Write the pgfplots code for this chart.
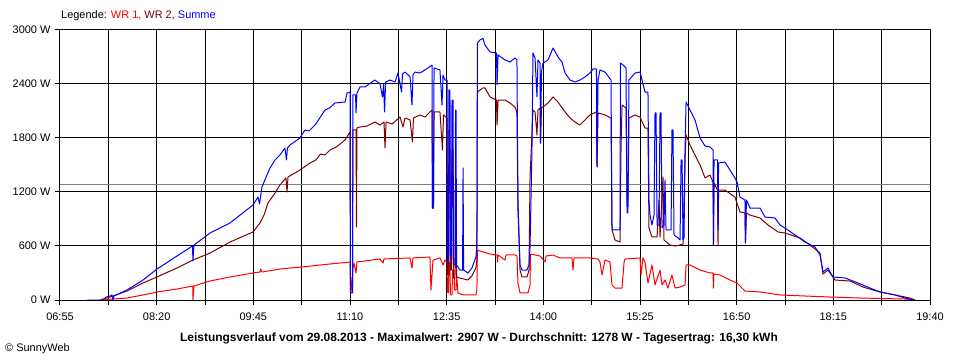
\documentclass[border=0pt]{standalone}
\usepackage{pgfplots}
\pgfplotsset{compat=1.18}
\usepackage{fontspec}
\setmainfont{Liberation Sans}
\definecolor{wrone}{RGB}{255,0,0}
\definecolor{wrtwo}{RGB}{128,0,0}
\definecolor{summe}{RGB}{0,0,255}
\definecolor{avg}{RGB}{128,128,128}
\begin{document}
\begin{tikzpicture}
\useasboundingbox (-60bp,-60bp) rectangle (900bp,300bp);
\begin{axis}[
 at={(0,0)}, anchor=south west,
 scale only axis, width=870bp, height=270bp,
 xmin=415, xmax=1180, ymin=0, ymax=3000,
 xtick={415,457.5,500,542.5,585,627.5,670,712.5,755,797.5,840,882.5,925,967.5,1010,1052.5,1095,1137.5,1180},
 xticklabels={06:55,{},08:20,{},09:45,{},11:10,{},12:35,{},14:00,{},15:25,{},16:50,{},18:15,{},19:40},
 ytick={0,600,1200,1800,2400,3000},
 yticklabels={0 W,600 W,1200 W,1800 W,2400 W,3000 W},
 tick pos=left, tick align=outside, major tick length=5bp,
 grid=major, major grid style={black, line width=1bp},
 axis line style={black, line width=1bp},
 every tick/.style={black, line width=1bp},
 tick label style={font=\fontsize{11}{13}\selectfont},
 xticklabel style={yshift=-4bp},
 yticklabel style={xshift=-1bp},
 every axis plot/.append style={line width=1bp, line join=round},
]
\addplot[avg, line width=1bp] coordinates {(415,1278) (1180,1278)};
% WR 1
\addplot[wrone] coordinates {
(452.8,0) (461.6,11) (473.9,22) (488.0,56) (500.3,89) (517.9,122) (531.9,156) (531.9,0) (532.8,156)
(546.9,211) (564.5,256) (584.7,300) (590.9,311) (591.5,344) (592.6,311) (608.4,344) (627.8,367)
(652.4,400) (670.0,422) (670.9,78) (672.6,356) (673.5,411) (675.3,300) (676.1,422) (696.4,456)
(699.0,411) (699.9,456) (722.8,467) (724.5,356) (725.4,467) (740.3,478) (741.2,111) (743.0,444)
(749.1,467) (751.8,389) (753.5,444) (755.3,422) (755.7,89) (756.6,78) (757.0,422) (757.9,389)
(758.3,56) (759.7,56) (760.2,333) (761.5,333) (761.9,111) (763.2,111) (763.7,278) (765.0,78)
(769.4,56) (780.7,56) (781.6,111) (782.0,556) (784.3,544) (793.1,511) (799.3,500) (799.7,422)
(800.2,500) (806.3,444) (807.2,500) (815.1,500) (816.8,489) (817.7,189) (819.5,78) (826.5,78)
(828.3,167) (828.7,511) (837.1,489) (841.5,422) (842.4,489) (848.5,500) (854.7,467) (865.2,467)
(866.1,333) (867.0,467) (881.0,467) (888.1,456) (889.8,422) (891.6,278) (894.2,444) (898.6,422)
(900.4,167) (903.0,133) (909.2,133) (911.0,422) (911.8,456) (925.0,467) (925.9,278) (927.6,467)
(929.4,422) (932.0,189) (935.5,389) (938.2,167) (942.6,333) (944.4,167) (947.0,222) (949.6,133)
(953.1,278) (955.8,133) (960.2,144) (964.6,167) (965.5,389) (969.0,389) (977.8,333) (986.5,300)
(989.2,300) (989.6,133) (990.1,289) (995.3,278) (1004.1,222) (1010.3,189) (1017.3,100) (1030.5,89)
(1048.1,56) (1092.1,33) (1118.4,22) (1158.0,11) (1166.8,0)
};
% WR 2
\addplot[wrtwo] coordinates {
(450.2,0) (459.0,33) (473.9,100) (488.0,189) (500.3,256) (517.9,356) (531.9,444) (546.9,522)
(564.5,644) (584.7,756) (590.9,856) (594.4,944) (597.9,1078) (604.1,1189) (608.4,1278) (613.7,1356)
(614.6,1200) (615.5,1367) (626.0,1444) (634.8,1522) (640.0,1556) (644.0,1622) (648.0,1611) (652.4,1667) (658.0,1700) (665.6,1778) (670.0,1867)
(670.4,167) (672.2,167) (672.6,1889) (675.3,1889) (675.7,811) (676.1,1911) (678.8,1922) (685.0,1933) (692.0,1978)
(696.4,1944) (699.9,1978) (700.8,1689) (701.7,1978) (707.0,1956) (714.0,2033) (716.6,1922) (718.4,2022) (722.8,2000)
(724.9,1756) (725.8,2022) (731.6,2056) (736.0,2033) (740.3,2089) (742.1,2111) (742.5,1022) (743.4,1022) (743.9,2089)
(749.1,2089) (751.3,1667) (752.2,2056) (755.3,2022) (755.7,278) (756.6,278) (757.0,1889) (757.9,1778)
(758.3,333) (759.2,333) (759.7,1667) (760.6,1667) (761.0,244) (762.3,244) (762.8,1111) (763.2,1111)
(763.7,256) (766.7,244) (773.7,222) (777.2,267) (780.7,356) (781.6,444) (782.0,2311) (786.9,2356)
(788.7,2356) (793.1,2256) (798.8,2222) (799.3,1944) (800.2,2222) (806.3,2222) (810.7,2189) (815.1,2144)
(816.8,2078) (817.7,1111) (819.5,333) (821.2,256) (825.6,256) (827.4,333) (828.3,1367) (830.9,2111)
(832.7,2089) (834.4,1833) (835.3,2111) (837.1,2133) (837.5,1744) (838.4,2133) (844.1,2189) (848.5,2256)
(852.9,2200) (854.7,2167) (859.1,2089) (863.5,2022) (867.8,1978) (872.2,1944) (876.6,2000) (881.0,2056)
(886.7,2089) (887.2,1478) (888.1,2078) (894.2,2056) (899.5,2022) (900.4,778) (903.0,667) (907.4,644)
(908.3,1667) (909.2,2167) (912.7,2133) (913.6,1111) (914.4,1111) (915.3,2022) (920.6,2056) (925.0,2033)
(929.4,1911) (932.0,1911) (932.9,800) (935.5,700) (938.2,700) (940.0,700) (941.7,1111) (942.6,700)
(945.2,1367) (946.1,667) (951.4,611) (955.8,600) (960.2,611) (962.8,622) (964.6,1556) (965.5,1833)
(969.0,1722) (977.8,1500) (982.2,1356) (986.5,1389) (989.2,1311) (989.6,611) (990.1,1300) (993.2,1222)
(993.6,611) (994.1,1222) (999.7,1222) (1008.5,1144) (1012.9,978) (1017.3,967) (1017.7,633) (1018.6,967)
(1021.7,944) (1030.5,911) (1037.6,833) (1046.4,756) (1052.5,744) (1065.7,689) (1074.5,611) (1083.3,522)
(1085.9,289) (1090.3,333) (1092.1,300) (1096.5,222) (1109.7,211) (1121.1,144) (1136.0,89) (1149.2,56)
(1162.4,22) (1166.8,0)
};
% Summe
\addplot[summe] coordinates {
(438.7,0) (452.8,0) (455.4,33) (459.0,44) (460.7,56) (461.6,0) (462.5,44) (473.9,111) (488.0,222)
(500.3,344) (517.9,489) (531.5,600) (531.9,433) (532.8,611) (546.9,744) (564.5,856) (584.7,1056)
(589.1,1144) (590.5,1067) (591.3,1144) (592.6,1256) (597.0,1389) (599.7,1467) (604.1,1556) (608.4,1611)
(612.8,1689) (614.1,1556) (615.0,1689) (617.2,1722) (626.0,1800) (630.4,1889) (634.0,1878) (639.2,1944) (644.0,2033) (648.0,2111)
(652.0,2133) (656.8,2189) (665.6,2200) (667.4,2300) (670.0,2311) (670.4,78) (672.2,78) (672.6,2278) (674.9,2278)
(675.3,2078) (676.1,2300) (678.8,2367) (683.2,2367) (689.3,2422) (692.0,2444) (696.4,2400) (698.6,2256)
(699.5,2400) (700.4,2089) (701.3,2422) (705.2,2444) (709.6,2422) (712.2,2522) (715.3,2311) (716.2,2511)
(718.4,2533) (722.8,2478) (724.5,2167) (725.4,2500) (727.2,2533) (731.6,2522) (738.6,2578) (742.1,2611)
(742.5,1022) (743.4,1022) (743.9,2578) (749.1,2556) (750.9,2167) (751.8,2500) (753.5,2444) (755.3,2444)
(755.7,422) (756.6,422) (757.0,2333) (757.9,2333) (758.3,500) (759.2,500) (759.7,2222) (760.6,2222)
(761.0,389) (762.3,389) (762.8,2111) (763.2,2111) (763.7,389) (766.7,333) (769.0,333) (769.4,1467)
(769.9,333) (773.7,300) (777.2,356) (780.7,478) (781.6,611) (782.0,2856) (784.3,2889) (786.9,2907)
(788.7,2833) (793.1,2756) (798.8,2744) (799.3,2389) (800.2,2722) (806.3,2667) (810.7,2644) (815.1,2689)
(816.8,2667) (817.7,1000) (819.5,389) (821.2,333) (825.6,333) (827.4,389) (828.3,589) (830.0,1667)
(830.9,2744) (832.7,2689) (834.4,2256) (835.3,2667) (837.1,2633) (837.5,1744) (838.4,2533) (839.7,2633)
(844.1,2667) (848.5,2800) (852.9,2700) (856.4,2644) (859.1,2522) (863.5,2444) (867.8,2422) (872.2,2444)
(876.6,2478) (881.0,2522) (883.7,2567) (886.7,2567) (887.2,1478) (888.1,2444) (889.8,2556) (894.2,2533)
(899.5,2444) (900.4,778) (907.4,778) (907.8,2633) (910.1,2611) (912.7,2578) (913.6,967) (914.4,967)
(915.3,2444) (920.6,2522) (925.0,2533) (929.4,2311) (932.0,2311) (932.9,1111) (933.8,944) (935.5,833)
(937.3,944) (938.2,2078) (939.1,2078) (940.0,833) (941.7,833) (942.6,2078) (943.5,2078) (944.4,800)
(946.1,833) (947.0,1333) (947.9,778) (952.3,778) (953.1,1889) (954.0,1889) (954.9,722) (958.5,689)
(960.2,667) (961.1,1556) (962.0,1556) (962.8,667) (963.7,689) (964.6,1667) (965.5,2200) (969.0,2111)
(973.4,2000) (977.8,1800) (982.2,1711) (986.5,1700) (989.2,1667) (989.6,611) (990.1,1556) (993.2,1556)
(993.6,778) (994.1,1522) (999.7,1533) (1004.1,1444) (1008.5,1356) (1010.3,1311) (1012.9,1144) (1017.3,1111)
(1017.7,633) (1018.6,1111) (1021.7,1022) (1030.5,1022) (1034.9,922) (1043.7,911) (1048.1,833) (1052.5,800)
(1061.3,722) (1070.1,644) (1078.9,589) (1083.3,500) (1085.9,311) (1090.3,356) (1092.1,311) (1094.7,256)
(1105.3,244) (1116.7,189) (1127.2,133) (1136.0,89) (1149.2,56) (1158.0,22) (1165.1,0)
};
\end{axis}
\node[anchor=west, inner sep=0pt, font=\fontsize{11}{13}\selectfont] at (1bp,284bp)
 {Legende: \textcolor{wrone}{WR 1,} \textcolor{wrtwo}{WR 2,} \textcolor{summe}{Summe}};
\node[anchor=center, inner sep=0pt, font=\bfseries\fontsize{12}{14}\selectfont] at (419bp,-38bp)
 {Leistungsverlauf vom 29.08.2013 - Maximalwert: 2907 W - Durchschnitt: 1278 W - Tagesertrag: 16,30 kWh};
\node[anchor=west, inner sep=0pt, font=\fontsize{11}{13}\selectfont] at (-55bp,-49bp) {© SunnyWeb};
\end{tikzpicture}
\end{document}
